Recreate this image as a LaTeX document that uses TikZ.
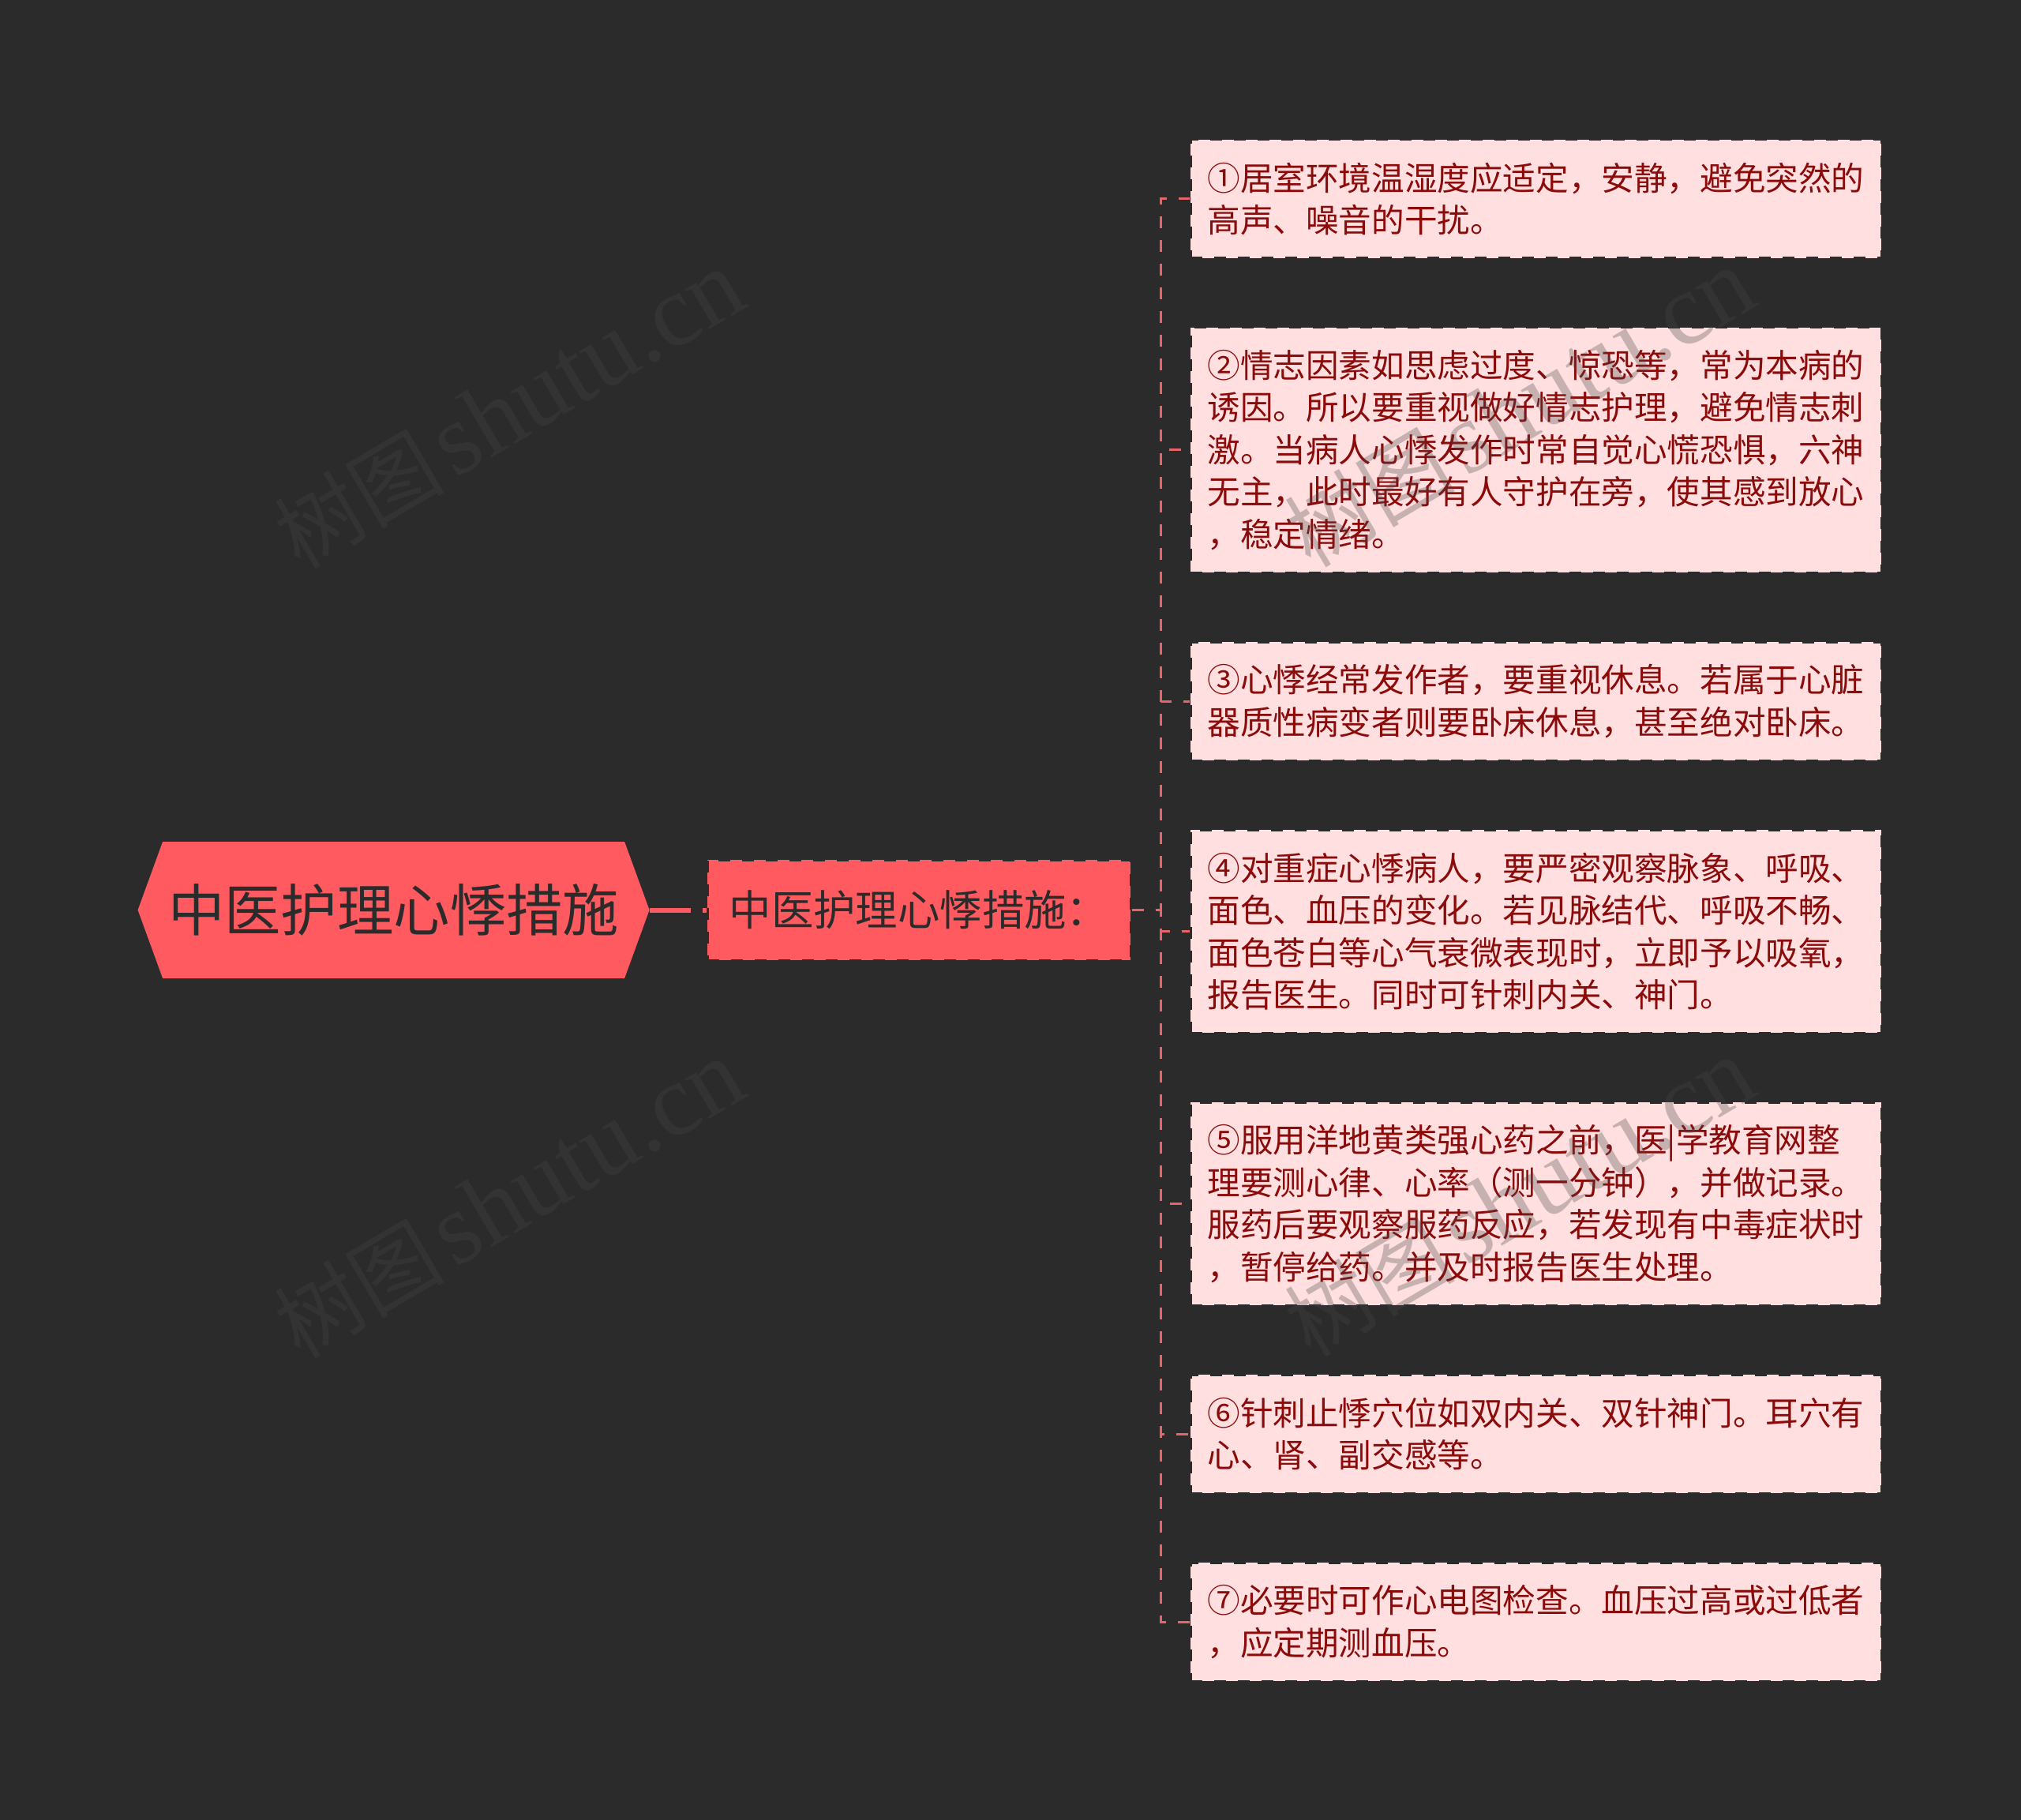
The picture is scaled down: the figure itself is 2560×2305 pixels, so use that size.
\documentclass[tikz,border=0pt]{standalone}
\usepackage{fontspec}
\setmainfont{Noto Sans CJK SC}
\newfontfamily\wmlatin{Liberation Serif}
\usetikzlibrary{shapes.symbols}
\definecolor{bgdark}{HTML}{2B2B2B}
\definecolor{rootred}{HTML}{FF5A5F}
\definecolor{leafpink}{HTML}{FFDFDF}
\definecolor{leaftext}{HTML}{8B0A0A}
\definecolor{linkred}{HTML}{E8636A}
\definecolor{wmgray}{HTML}{464646}
\tikzset{
  rootnode/.style={signal, signal to=west and east, signal pointer angle=140, fill=rootred,
    minimum width=324pt, minimum height=86.5pt, inner sep=0pt, text=bgdark,
    font=\fontsize{35.7pt}{42pt}\selectfont},
  midnode/.style={fill=rootred, draw=bgdark, line width=1.5pt, dash pattern=on 7.5pt off 7.5pt,
    minimum width=268pt, minimum height=63.5pt, inner sep=0pt, text=bgdark,
    font=\fontsize{26.7pt}{32pt}\selectfont},
  leafnode/.style={fill=leafpink, draw=bgdark, line width=1.5pt, dash pattern=on 7.5pt off 7.5pt,
    minimum width=437.5pt, inner xsep=10.75pt, inner ysep=0pt, text width=416pt, align=left, text=leaftext,
    font=\fontsize{20.8pt}{26.75pt}\selectfont},
  leafii/.style={leafnode, minimum height=75pt},
  leafiv/.style={leafnode, minimum height=128.5pt},
  leafv/.style={leafnode, minimum height=155pt},
  rootlink/.style={draw=rootred, line width=3pt, dash pattern=on 26pt off 7.5pt on 60pt off 0pt},
  leaflink/.style={draw=linkred, line width=1.5pt, dash pattern=on 7.5pt off 7.5pt},
  watermark/.style={rotate=30.5, text=wmgray, text opacity=0.3, inner sep=0pt,
    font=\fontsize{54pt}{60pt}\selectfont}
}
\newcommand{\wmtext}{树图\hspace{6pt}{\wmlatin\fontsize{64.6pt}{60pt}\selectfont shutu.cn}}
\begin{document}
\begin{tikzpicture}[x=0.5pt,y=-0.5pt]
\useasboundingbox (0,0) rectangle (2560,2305);
\fill[bgdark] (0,0) rectangle (2560,2305);

\node[rootnode] (root) at (498.6,1152.5) {中医护理心悸措施};
\node[midnode] (mid) at (1164,1152.5) {中医护理心悸措施：};

\node[leafii] (b1) at (1945.5,252) {①居室环境温湿度应适定，安静，避免突然的\\高声、噪音的干扰。};
\node[leafv] (b2) at (1945.5,570) {②情志因素如思虑过度、惊恐等，常为本病的\\诱因。所以要重视做好情志护理，避免情志刺\\激。当病人心悸发作时常自觉心慌恐惧，六神\\无主，此时最好有人守护在旁，使其感到放心\\，稳定情绪。};
\node[leafii] (b3) at (1945.5,888) {③心悸经常发作者，要重视休息。若属于心脏\\器质性病变者则要卧床休息，甚至绝对卧床。};
\node[leafiv] (b4) at (1945.5,1179.5) {④对重症心悸病人，要严密观察脉象、呼吸、\\面色、血压的变化。若见脉结代、呼吸不畅、\\面色苍白等心气衰微表现时，立即予以吸氧，\\报告医生。同时可针刺内关、神门。};
\node[leafiv] (b5) at (1945.5,1524.5) {⑤服用洋地黄类强心药之前，医|学教育网整\\理要测心律、心率（测一分钟），并做记录。\\服药后要观察服药反应，若发现有中毒症状时\\，暂停给药。并及时报告医生处理。};
\node[leafii] (b6) at (1945.5,1816) {⑥针刺止悸穴位如双内关、双针神门。耳穴有\\心、肾、副交感等。};
\node[leafii] (b7) at (1945.5,2054) {⑦必要时可作心电图检查。血压过高或过低者\\，应定期测血压。};

\coordinate (trunk) at (1470,1152.5);
\draw[rootlink] (root.east) -- (mid.west);
\foreach \leaf in {b1,b2,b3,b4,b5,b6,b7}{
  \draw[leaflink] (mid.east) -- (trunk) -- (trunk |- \leaf.west) -- (\leaf.west);
}

\node[watermark] (wm1) at (645,519) {\wmtext};
\node[watermark] (wm2) at (1925,517) {\wmtext};
\node[watermark] (wm3) at (645,1519) {\wmtext};
\node[watermark] (wm4) at (1925,1517) {\wmtext};
\end{tikzpicture}
\end{document}
